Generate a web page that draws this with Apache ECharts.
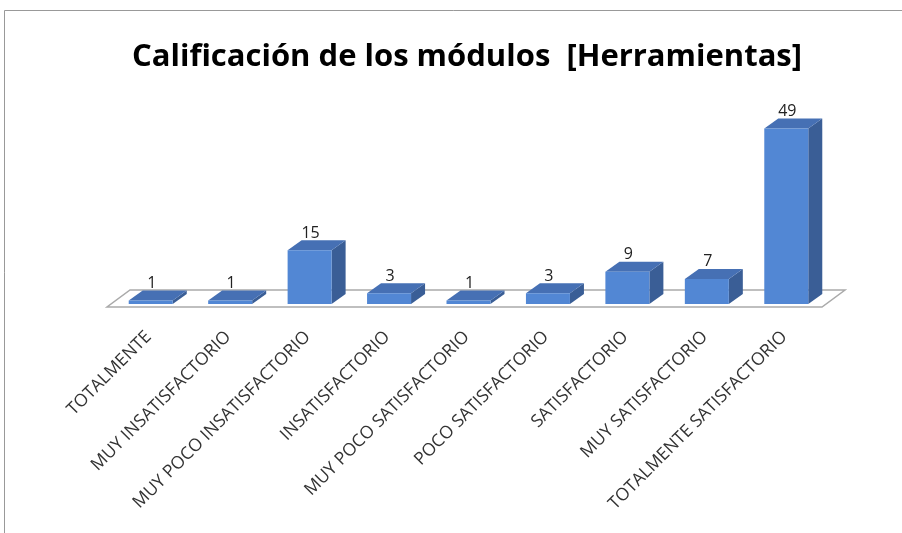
<!DOCTYPE html>
<html><head><meta charset="utf-8">
<script src="https://cdn.jsdelivr.net/npm/echarts@6/dist/echarts.min.js"></script>
<style>html,body{margin:0;padding:0;background:#fff}#c{width:902px;height:533px}</style>
</head><body><div id="c"></div>
<script>
const categories = ['TOTALMENTE','MUY INSATISFACTORIO','MUY POCO INSATISFACTORIO','INSATISFACTORIO','MUY POCO SATISFACTORIO','POCO SATISFACTORIO','SATISFACTORIO','MUY SATISFACTORIO','TOTALMENTE SATISFACTORIO'];
const values = [1,1,15,3,1,3,9,7,49];
const titleText = 'Calificación de los módulos  [Herramientas]';

const chart = echarts.init(document.getElementById('c'), null, {renderer:'canvas'});
const DX = 14, DY = 10;
function barItem(params, api){
  const v = api.value(1);
  const t = api.coord([api.value(0), v]);
  const b = api.coord([api.value(0), 0]);
  const cx = t[0];
  const l = cx - 20, r = cx + 24;
  const top = t[1], bot = b[1];
  return {type:'group', children:[
    {type:'polygon', shape:{points:[[r,bot],[r+DX,bot-DY],[r+DX,top-DY],[r,top]]}, style:{fill:'#3A5E96'}},
    {type:'polygon', shape:{points:[[l,top],[r,top],[r+DX,top-DY],[l+DX,top-DY]]}, style:{fill:'#4670B4'}},
    {type:'rect', shape:{x:l, y:top, width:r-l, height:bot-top}, style:{fill:'#5287D4'}},
    {type:'text', style:{text:String(v), x:cx+3, y:top-DY+1, align:'center', verticalAlign:'bottom', fill:'#222', font:'16px "Open Sans"'}}
  ]};
}
function floorItem(params, api){
  const cs = params.coordSys;
  const b = api.coord([0, 0]);
  const fy = b[1] + 3, by = b[1] - 14;
  const x0 = cs.x - 2, x1 = cs.x + cs.width - 2;
  return {type:'polygon', shape:{points:[[x0,fy],[x1,fy],[x1+23,by],[x0+23,by]]}, style:{fill:'#fff', stroke:'#aaa', lineWidth:1.5}};
}
chart.setOption({
  animation:false,
  backgroundColor:'#fff',
  title:{text:titleText, left:462, top:37, textAlign:'center', textStyle:{fontFamily:'"Open Sans"', fontWeight:'bold', fontSize:31, color:'#000'}},
  graphic:[{type:'rect', shape:{x:4.5, y:10.5, width:1000, height:600}, style:{fill:'none', stroke:'#999', lineWidth:1}, silent:true}],
  grid:{left:109, right:78, top:89, bottom:229},
  xAxis:{type:'category', data:categories, axisLine:{show:false}, axisTick:{show:false},
    axisLabel:{interval:0, rotate:45, margin:30, fontSize:17.5, color:'#333', fontFamily:'"Open Sans"'}},
  yAxis:{type:'value', min:0, max:60, show:false, splitLine:{show:false}},
  series:[
    {type:'custom', renderItem:floorItem, data:[[0,0]], z:1, silent:true},
    {type:'custom', renderItem:barItem, data:values.map((v,i)=>[i,v]), z:2}
  ]
});
</script></body></html>
